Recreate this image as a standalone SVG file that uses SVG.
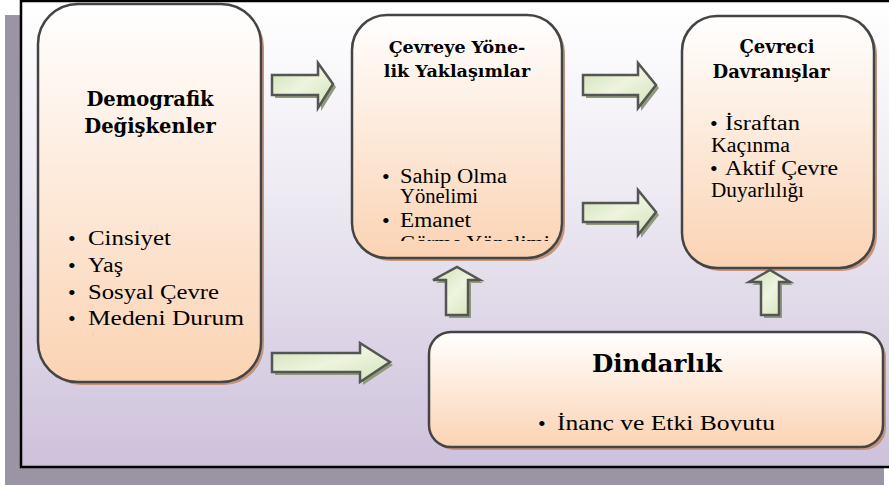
<svg xmlns="http://www.w3.org/2000/svg" width="889" height="486" viewBox="0 0 889 486">
<defs>
<linearGradient id="bg" x1="0" y1="0" x2="0" y2="1">
<stop offset="0" stop-color="#ffffff"/>
<stop offset="0.4" stop-color="#eeebf3"/>
<stop offset="1" stop-color="#cdc1db"/>
</linearGradient>
<linearGradient id="box" x1="0" y1="0" x2="0" y2="1">
<stop offset="0" stop-color="#ffffff"/>
<stop offset="1" stop-color="#fbd3b3"/>
</linearGradient>
<linearGradient id="arr" x1="0" y1="0" x2="1" y2="1">
<stop offset="0" stop-color="#cfe0b4"/>
<stop offset="0.5" stop-color="#eef4df"/>
<stop offset="1" stop-color="#d2e2b6"/>
</linearGradient>
<clipPath id="c2"><rect x="354" y="17" width="206" height="224"/></clipPath>
<clipPath id="c4"><rect x="431" y="334" width="450" height="97"/></clipPath>
</defs>
<style>
.node{fill:url(#box);stroke:#444;stroke-width:2.5}
.sh{fill:#c4937c}
.arrow{fill:url(#arr);stroke:#555;stroke-width:2.5;stroke-linejoin:miter}
.ash{fill:#8f9a78}
.t{font-family:"DejaVu Serif","Liberation Serif",serif;font-weight:bold;fill:#000;text-anchor:middle}
.b{font-family:"Liberation Serif",serif;fill:#000}
.bl{font-family:"Liberation Serif",serif;fill:#000;font-size:22px}
</style>
<rect x="5" y="15" width="879" height="470" fill="#9b94a4"/>
<rect x="21" y="1" width="872" height="466" fill="url(#bg)" stroke="#000" stroke-width="2.5"/>

<g id="n1">
<rect class="sh" x="41" y="7" width="223" height="378" rx="40"/>
<rect class="node" x="38" y="4" width="223" height="378" rx="40"/>
<text class="t" x="150" y="106" font-size="19.5">Demografik</text>
<text class="t" x="150" y="133" font-size="19.5">Değişkenler</text>
<g class="b" font-size="20.5">
<text class="bl" x="68" y="246">•</text><text x="88" y="245" textLength="83" lengthAdjust="spacingAndGlyphs">Cinsiyet</text>
<text class="bl" x="68" y="273">•</text><text x="88" y="272" textLength="35" lengthAdjust="spacingAndGlyphs">Yaş</text>
<text class="bl" x="68" y="300">•</text><text x="88" y="299" textLength="131" lengthAdjust="spacingAndGlyphs">Sosyal Çevre</text>
<text class="bl" x="68" y="326">•</text><text x="88" y="325" textLength="156" lengthAdjust="spacingAndGlyphs">Medeni Durum</text>
</g>
</g>

<g id="n2">
<rect class="sh" x="355" y="18" width="210" height="243" rx="35"/>
<rect class="node" x="352" y="15" width="210" height="243" rx="35"/>
<text class="t" x="457" y="53" font-size="17.5">Çevreye Yöne-</text>
<text class="t" x="457" y="77" font-size="17.5">lik Yaklaşımlar</text>
<g class="b" font-size="20" clip-path="url(#c2)">
<text class="bl" x="382" y="184">•</text><text x="400" y="183" textLength="107" lengthAdjust="spacingAndGlyphs">Sahip Olma</text>
<text x="400" y="203" textLength="78" lengthAdjust="spacingAndGlyphs">Yönelimi</text>
<text class="bl" x="382" y="228">•</text><text x="400" y="227" textLength="71" lengthAdjust="spacingAndGlyphs">Emanet</text>
<text x="400" y="250" textLength="150" lengthAdjust="spacingAndGlyphs">Görme Yönelimi</text>
</g>
</g>

<g id="n3">
<rect class="sh" x="685" y="19" width="192" height="252" rx="35"/>
<rect class="node" x="682" y="16" width="192" height="252" rx="35"/>
<text class="t" x="777" y="53" font-size="18">Çevreci</text>
<text class="t" x="771" y="78" font-size="18">Davranışlar</text>
<g class="b" font-size="20">
<text class="bl" x="710" y="131">•</text><text x="725" y="130" textLength="75" lengthAdjust="spacingAndGlyphs">İsraftan</text>
<text x="711" y="152" textLength="79" lengthAdjust="spacingAndGlyphs">Kaçınma</text>
<text class="bl" x="710" y="176">•</text><text x="725" y="175" textLength="113" lengthAdjust="spacingAndGlyphs">Aktif Çevre</text>
<text x="711" y="197" textLength="93" lengthAdjust="spacingAndGlyphs">Duyarlılığı</text>
</g>
</g>

<g id="n4">
<rect class="sh" x="432" y="335" width="454" height="115" rx="22"/>
<rect class="node" x="429" y="332" width="454" height="115" rx="22"/>
<text class="t" x="657" y="372" font-size="24.5">Dindarlık</text>
<g class="b" font-size="21" clip-path="url(#c4)">
<text class="bl" x="538" y="431">•</text><text x="557" y="430" textLength="218" lengthAdjust="spacingAndGlyphs">İnanç ve Etki Boyutu</text>
</g>
</g>

<g id="connectors">
<path class="ash" transform="translate(3,3)" d="M272,75 H318 V63 L333,84 L318,108 V95 H272 Z"/>
<path class="arrow" d="M272,75 H318 V63 L333,84 L318,108 V95 H272 Z"/>
<path class="ash" transform="translate(3,3)" d="M583,75 H638 V63 L656,85 L638,108 V95 H583 Z"/>
<path class="arrow" d="M583,75 H638 V63 L656,85 L638,108 V95 H583 Z"/>
<path class="ash" transform="translate(3,3)" d="M583,203 H638 V190 L656,212 L638,235 V222 H583 Z"/>
<path class="arrow" d="M583,203 H638 V190 L656,212 L638,235 V222 H583 Z"/>
<path class="ash" transform="translate(3,3)" d="M272,353 H360 V343 L390,362 L360,382 V372 H272 Z"/>
<path class="arrow" d="M272,353 H360 V343 L390,362 L360,382 V372 H272 Z"/>
<path class="ash" transform="translate(3,3)" d="M446,315 V280 H433 L457,267 L480,280 H468 V315 Z"/>
<path class="arrow" d="M446,315 V280 H433 L457,267 L480,280 H468 V315 Z"/>
<path class="ash" transform="translate(3,3)" d="M761,315 V282 H749 L770,270 L790,282 H779 V315 Z"/>
<path class="arrow" d="M761,315 V282 H749 L770,270 L790,282 H779 V315 Z"/>
</g>
</svg>
